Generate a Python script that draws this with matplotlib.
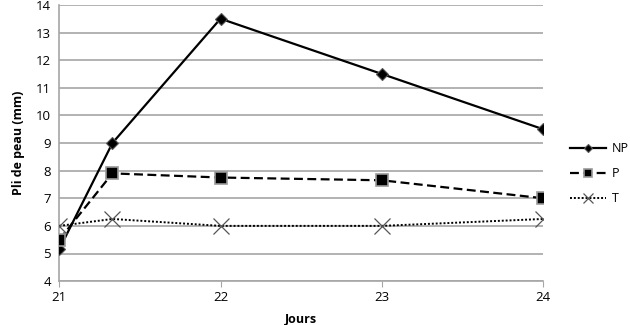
import matplotlib
matplotlib.use("Agg")
import matplotlib.pyplot as plt

plt.rcParams["font.family"] = ["Open Sans", "DejaVu Sans"]

# data
jours = [21, 21.33, 22, 23, 24]
np_vals = [5.15, 9.0, 13.5, 11.5, 9.5]
p_vals = [5.5, 7.9, 7.75, 7.65, 7.0]
t_vals = [6.0, 6.25, 6.0, 6.0, 6.25]
x_ticks = [21, 22, 23, 24]
y_ticks = list(range(4, 15))

GRID = "#a6a6a6"

fig = plt.figure(figsize=(6.3, 3.25), dpi=100)
ax = fig.add_axes([0.094, 0.135, 0.768, 0.85])

ax.plot(jours, np_vals, color="black", lw=1.6, ls="-", marker="D", ms=6,
        mfc="black", mec="#555555", mew=0.8, label="NP", zorder=3)
ax.plot(jours, p_vals, color="black", lw=1.6, ls=(0, (4, 2)), marker="s", ms=8,
        mfc="black", mec="#999999", mew=1.2, label="P", zorder=3)
ax.plot(jours, t_vals, color="black", lw=1.4, ls=(0, (1, 1)), marker="x", ms=11,
        mec="#555555", mew=0.9, label="T", zorder=3)

ax.set_xlim(21, 24)
ax.set_ylim(4, 14)
ax.set_xticks(x_ticks)
ax.set_yticks(y_ticks)
ax.yaxis.grid(True, color=GRID, lw=1.2)
ax.set_axisbelow(True)

for side in ["top", "right"]:
    ax.spines[side].set_visible(False)
for side in ["left", "bottom"]:
    ax.spines[side].set_color(GRID)
    ax.spines[side].set_linewidth(1.2)

ax.tick_params(axis="y", length=0, labelsize=9.5, pad=6)
ax.tick_params(axis="x", length=4, color=GRID, labelsize=9.5, pad=3)

ax.set_xlabel("Jours", fontsize=9, fontweight="bold", labelpad=6)
ax.set_ylabel("Pli de peau (mm)", fontsize=9, fontweight="bold", labelpad=8)

fig.legend(loc="center left", bbox_to_anchor=(0.905, 0.465), frameon=False,
           fontsize=9, handlelength=2.9, handletextpad=0.45, labelspacing=0.95,
           markerscale=0.65, borderaxespad=0, borderpad=0)

fig.savefig("out.png", dpi=100)
